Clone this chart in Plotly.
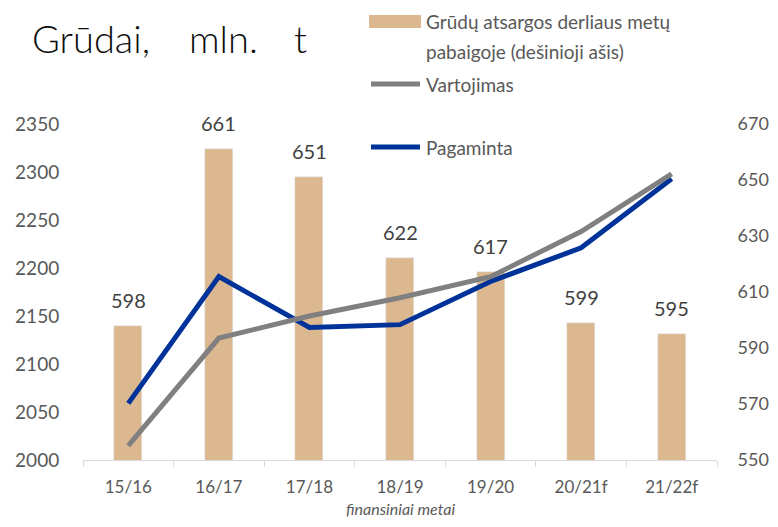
import plotly.graph_objects as go

categories = ["15/16", "16/17", "17/18", "18/19", "19/20", "20/21f", "21/22f"]
atsargos = [598, 661, 651, 622, 617, 599, 595]
vartojimas = [2015, 2127, 2150, 2169, 2191, 2238, 2298]
pagaminta = [2059, 2191, 2138, 2141, 2186, 2221, 2293]

OFF = 8  # page body margin
W, H = 778 - OFF, 527 - 2 * OFF
L, R, T = 83 - OFF, 61, 124 - OFF
B = H + OFF - 460
PW, PH = W - L - R, H - T - B

def px(x):
    return (x - OFF - L) / PW

def py(y):
    return (H - B - (y - OFF)) / PH

FONT = "Lato"
GRAY_TXT = "#595959"
BAR_C = "#DCB891"
GRAY_L = "#808080"
BLUE_L = "#003399"

fig = go.Figure()
fig.add_trace(go.Bar(x=categories, y=atsargos, yaxis="y", marker_color=BAR_C,
                     width=0.31, name="Grūdų atsargos derliaus metų pabaigoje (dešinioji ašis)",
                     showlegend=False))
fig.add_trace(go.Scatter(x=categories, y=pagaminta, mode="lines", name="Pagaminta", yaxis="y2",
                         line=dict(color=BLUE_L, width=5), showlegend=False))
fig.add_trace(go.Scatter(x=categories, y=vartojimas, mode="lines", name="Vartojimas", yaxis="y2",
                         line=dict(color=GRAY_L, width=5), showlegend=False))

annotations = []
for c, v in zip(categories, atsargos):
    annotations.append(dict(x=c, y=v, xref="x", yref="y", text=str(v), showarrow=False,
                            yanchor="bottom", yshift=12,
                            font=dict(family=FONT, size=20, color="#404040")))

# title
for txt, x0 in [("Grūdai,", 30), ("mln.", 187), ("t", 292)]:
    annotations.append(dict(x=px(x0), y=py(38.5), xref="paper", yref="paper", text=txt,
                            showarrow=False, xanchor="left", yanchor="middle",
                            font=dict(family=FONT, size=38, color="#0D0D0D", weight=300)))

# x-axis title
annotations.append(dict(x=0.5, y=py(508), xref="paper", yref="paper",
                        text="<i>finansiniai metai</i>", showarrow=False,
                        xanchor="center", yanchor="middle",
                        font=dict(family=FONT, size=16, color=GRAY_TXT)))

# legend (manual)
shapes = [
    dict(type="rect", xref="paper", yref="paper", x0=px(369), x1=px(421), y0=py(28), y1=py(15),
         fillcolor=BAR_C, line=dict(width=0)),
    dict(type="line", xref="paper", yref="paper", x0=px(371), x1=px(420), y0=py(84), y1=py(84),
         line=dict(color=GRAY_L, width=5)),
    dict(type="line", xref="paper", yref="paper", x0=px(371), x1=px(420), y0=py(147), y1=py(147),
         line=dict(color=BLUE_L, width=5)),
]
for txt, yc in [("Grūdų atsargos derliaus metų", 21.5), ("pabaigoje (dešinioji ašis)", 51),
                ("Vartojimas", 84), ("Pagaminta", 147)]:
    annotations.append(dict(x=px(424), y=py(yc), xref="paper", yref="paper", text=txt,
                            showarrow=False, xanchor="left", yanchor="middle",
                            font=dict(family=FONT, size=19, color=GRAY_TXT)))

fig.update_layout(
    width=W, height=H,
    margin=dict(l=L, r=R, t=T, b=B, pad=0, autoexpand=False),
    paper_bgcolor="white", plot_bgcolor="white",
    showlegend=False,
    bargap=0,
    annotations=annotations,
    shapes=shapes,
    xaxis=dict(type="category", showline=True, linecolor="#D9D9D9", linewidth=1,
               ticks="outside", tickson="boundaries", ticklen=6, tickcolor="#D9D9D9",
               showgrid=False, zeroline=False, automargin=False,
               tickfont=dict(family=FONT, size=17, color=GRAY_TXT),
               ticklabelstandoff=12),
    yaxis=dict(range=[550, 670], tick0=550, dtick=20, side="right", showgrid=False,
               zeroline=False, showline=False, automargin=False,
               ticks="outside", ticklen=16, tickcolor="rgba(0,0,0,0)",
               tickfont=dict(family=FONT, size=18, color=GRAY_TXT)),
    yaxis2=dict(range=[2000, 2350], tick0=2000, dtick=50, overlaying="y", side="left",
                showgrid=False, zeroline=False, showline=False, automargin=False,
                ticks="outside", ticklen=19, tickcolor="rgba(0,0,0,0)",
                tickfont=dict(family=FONT, size=19, color=GRAY_TXT)),
)

fig.write_html("out.html")
